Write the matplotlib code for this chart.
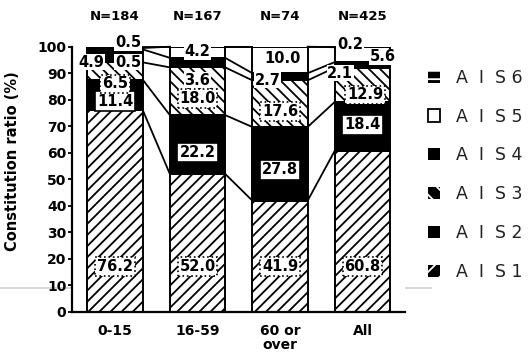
import numpy as np
import matplotlib
matplotlib.use("Agg")
import matplotlib.pyplot as plt
from matplotlib.patches import Patch
from matplotlib.lines import Line2D

# AIS share (%) by age group
groups = ['0-15', '16-59', '60 or\nover', 'All']
n_counts = [184, 167, 74, 425]
ais1 = [76.2, 52.0, 41.9, 60.8]
ais2 = [11.4, 22.2, 27.8, 18.4]
ais3 = [6.5, 18.0, 17.6, 12.9]
ais4 = [4.9, 3.6, 2.7, 2.1]
ais5 = [0.5, 4.2, 10.0, 5.6]
ais6 = [0.5, 0.0, 0.0, 0.2]
layer_names = ['AIS1', 'AIS2', 'AIS3', 'AIS4', 'AIS5', 'AIS6']
yticks = list(range(0, 101, 10))

layers = [ais1, ais2, ais3, ais4, ais5, ais6]

# fill style per layer: (face, hatch, hatch colour)
styles = {
    'AIS1': ('white', '///', 'black'),
    'AIS2': ('black', '', 'black'),
    'AIS3': ('white', '\\\\\\', 'black'),
    'AIS4': ('black', '', 'black'),
    'AIS5': ('white', '', 'black'),
    'AIS6': ('black', '---', 'white'),
}
legend_styles = {
    'AIS1': ('black', '//', 'white'),
    'AIS2': ('black', '', 'black'),
    'AIS3': ('black', '\\\\', 'white'),
    'AIS4': ('black', '', 'black'),
    'AIS5': ('white', '', 'black'),
    'AIS6': ('black', '--', 'white'),
}

# where each value label sits: (shift from bar centre, height in %)
spots = {
    'AIS1': [(0, 17), (0, 17), (0, 17), (0, 17)],
    'AIS2': [(0, 79.5), (0, 60), (0, 53.5), (0, 70.5)],
    'AIS3': [(0, 86), (0, 80.5), (0, 75.5), (0.03, 81.8)],
    'AIS4': [(-0.29, 94.2), (0, 87.4), (-0.15, 87.4), (-0.27, 90)],
    'AIS5': [(0.16, 94.2), (0, 98.2), (0.03, 95.7), (0.24, 96.2)],
    'AIS6': [(0.16, 101.6), None, None, (-0.15, 100.7)],
}

plt.rcParams['font.family'] = 'DejaVu Sans'
plt.rcParams['hatch.linewidth'] = 1.3

fig = plt.figure(figsize=(5.32, 3.62), dpi=100)
ax = fig.add_axes([0.1353, 0.139, 0.626, 0.732])

x = np.arange(len(groups))
w = 0.67
bottom = np.zeros(len(groups))
tops = []
for name, vals in zip(layer_names, layers):
    face, hatch, hcol = styles[name]
    ax.bar(x, vals, w, bottom=bottom, color=face, hatch=hatch,
           edgecolor=hcol, linewidth=0, zorder=2)
    # black outline round every segment
    ax.bar(x, vals, w, bottom=bottom, fill=False,
           edgecolor='black', linewidth=1.4, zorder=3)
    bottom = bottom + np.array(vals)
    tops.append(bottom.copy())

# lines joining the layer boundaries of neighbouring bars
for t in tops:
    for i in range(len(groups) - 1):
        ax.plot([x[i] + w / 2, x[i + 1] - w / 2], [t[i], t[i + 1]],
                color='black', lw=1.3, zorder=2, clip_on=False)

# value labels
for name, vals in zip(layer_names, layers):
    for i, v in enumerate(vals):
        spot = spots[name][i]
        if spot is None:
            continue
        if name in ('AIS1', 'AIS3'):
            box = dict(boxstyle='square,pad=0.12', fc='white', ec='black',
                       ls=':', lw=1.2)
        elif name == 'AIS2':
            box = dict(boxstyle='square,pad=0.15', fc='white', ec='black',
                       lw=1.2)
        else:
            box = dict(boxstyle='square,pad=0.05', fc='white', ec='none')
        ax.text(x[i] + spot[0], spot[1], f'{v:.1f}', ha='center', va='center',
                fontsize=10.5, fontweight='bold', bbox=box, zorder=5,
                clip_on=False)

# sample sizes over the bars
for i, n in enumerate(n_counts):
    ax.text(x[i], 111.3, f'N={n}', ha='center', va='center', fontsize=9.5,
            fontweight='bold', clip_on=False)

ax.set_xlim(-0.521, 3.515)
ax.set_ylim(0, 100)
ax.set_yticks(yticks)
ax.set_yticklabels([str(t) for t in yticks], fontsize=10, fontweight='bold')
ax.set_xticks(x)
ax.set_xticklabels(groups, fontsize=10, fontweight='bold', linespacing=0.95)
ax.tick_params(axis='x', length=0, pad=9)
ax.tick_params(axis='y', length=3, width=1.3, pad=1)
for side in ('top', 'right'):
    ax.spines[side].set_visible(False)
for side in ('left', 'bottom'):
    ax.spines[side].set_linewidth(1.6)
ax.set_ylabel('Constitution ratio (%)', fontsize=10.5, fontweight='bold')
ax.yaxis.set_label_coords(-0.156, 0.57)

handles = []
for name in reversed(layer_names):
    face, hatch, hcol = legend_styles[name]
    handles.append(Patch(facecolor=face, hatch=hatch,
                         edgecolor='black' if face == 'white' else hcol,
                         linewidth=1.3 if face == 'white' else 0))
labels = ['A  I  S ' + name[-1] for name in reversed(layer_names)]
fig.legend(handles, labels, loc='upper left',
           bbox_to_anchor=(419 / 532, 1 - 60 / 362), frameon=False,
           fontsize=12.5, handlelength=0.72, handleheight=0.72,
           handletextpad=0.9, labelspacing=1.2, borderpad=0,
           labelcolor='#222222')

# faint streak across the lower part of the sheet
fig.add_artist(Line2D([0, 0.81], [1 - 288 / 362] * 2, color='#cfcfcf',
                      lw=1.2, transform=fig.transFigure, zorder=0))

fig.savefig('out.png', dpi=100)
